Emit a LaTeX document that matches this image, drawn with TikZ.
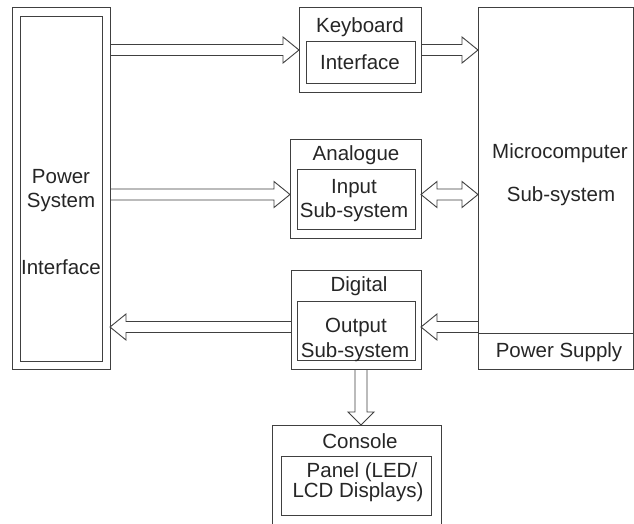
\documentclass[tikz,border=0pt]{standalone}
\usepackage{fontspec}
\setmainfont{Liberation Sans}
\usetikzlibrary{calc}
\definecolor{ln}{gray}{0.25}
\tikzset{
  box/.style={draw=ln, line width=0.9pt, inner sep=0pt, outer sep=0pt, anchor=north west},
  lbl/.style={anchor=base, inner sep=0pt, font=\fontsize{20.5}{24}\selectfont, text=black!85},
  fat/.style={draw=ln, line width=0.9pt, line join=miter}
}
\newcommand\fatright[2]{\draw[fat] let \p1=(#1),\p2=(#2) in
  (\x1,\y1+5.5pt) -- (\x2-16pt,\y1+5.5pt) -- (\x2-16pt,\y1+13pt) -- (\x2,\y1)
  -- (\x2-16pt,\y1-13pt) -- (\x2-16pt,\y1-5.5pt) -- (\x1,\y1-5.5pt);}
\newcommand\fatleft[2]{\draw[fat] let \p1=(#1),\p2=(#2) in
  (\x1,\y1+5.5pt) -- (\x2+16pt,\y1+5.5pt) -- (\x2+16pt,\y1+13pt) -- (\x2,\y1)
  -- (\x2+16pt,\y1-13pt) -- (\x2+16pt,\y1-5.5pt) -- (\x1,\y1-5.5pt);}
\newcommand\fatboth[2]{\draw[fat] let \p1=(#1),\p2=(#2) in
  (\x1,\y1) -- (\x1+16pt,\y1+13pt) -- (\x1+16pt,\y1+5.5pt) -- (\x2-16pt,\y1+5.5pt)
  -- (\x2-16pt,\y1+13pt) -- (\x2,\y1) -- (\x2-16pt,\y1-13pt) -- (\x2-16pt,\y1-5.5pt)
  -- (\x1+16pt,\y1-5.5pt) -- (\x1+16pt,\y1-13pt) -- cycle;}
\newcommand\fatdown[2]{\draw[fat] let \p1=(#1),\p2=(#2) in
  (\x1-6pt,\y1) -- (\x1-6pt,\y2+13pt) -- (\x1-13pt,\y2+13pt) -- (\x1,\y2)
  -- (\x1+13pt,\y2+13pt) -- (\x1+6pt,\y2+13pt) -- (\x1+6pt,\y1);}
\begin{document}
\begin{tikzpicture}[x=1pt,y=-1pt]
\useasboundingbox (0,0) rectangle (634,523);
\clip (0,0) rectangle (634,523);
\fill[white] (0,0) rectangle (634,523);
% Power system interface
\node[box, minimum width=98pt, minimum height=362pt] (psio) at (12,7) {};
\node[box, minimum width=82pt, minimum height=345pt] (psii) at (20,16) {};
\node[lbl] (t1) at (61,183) {Power};
\node[lbl] (t2) at (61,207) {System};
\node[lbl] (t3) at (61,274) {Interface};
% Keyboard
\node[box, minimum width=122pt, minimum height=85pt] (kbo) at (299,7) {};
\node[box, minimum width=109pt, minimum height=42pt] (kbi) at (306,41) {};
\node[lbl] (t4) at (360,32) {Keyboard};
\node[lbl] (t5) at (360,69) {Interface};
% Analogue
\node[box, minimum width=131pt, minimum height=99pt] (ano) at (290,139) {};
\node[box, minimum width=118pt, minimum height=60pt] (ani) at (297,169) {};
\node[lbl] (t6) at (356,160) {Analogue};
\node[lbl] (t7) at (354,193) {Input};
\node[lbl] (t8) at (354,217) {Sub-system};
% Digital
\node[box, minimum width=130pt, minimum height=99pt] (dgo) at (291,270) {};
\node[box, minimum width=118pt, minimum height=59pt] (dgi) at (297,301) {};
\node[lbl] (t9) at (359,291) {Digital};
\node[lbl] (t10) at (356,332) {Output};
\node[lbl] (t11) at (355,357) {Sub-system};
% Microcomputer
\node[box, minimum width=155pt, minimum height=326pt] (mc) at (478,7) {};
\node[box, minimum width=155pt, minimum height=36pt] (ps) at (478,333) {};
\node[lbl] (t12) at (560,158) {Microcomputer};
\node[lbl] (t13) at (561,201) {Sub-system};
\node[lbl] (t14) at (559,357) {Power Supply};
% Console
\node[box, minimum width=169pt, minimum height=110pt] (coo) at (272,425) {};
\node[box, minimum width=150pt, minimum height=59pt] (coi) at (281,456) {};
\node[lbl] (t15) at (360,448) {Console};
\node[lbl] (t16) at (362,477) {Panel (LED/};
\node[lbl] (t17) at (358,497) {LCD Displays)};
% rows
\coordinate (r1) at (0,50);
\coordinate (r2) at (0,194.5);
\coordinate (r3) at (0,327);
\coordinate (c1) at (361,0);
% arrows
\fatright{psio.east |- r1}{kbo.west |- r1}
\fatright{kbo.east |- r1}{mc.west |- r1}
\fatright{psio.east |- r2}{ano.west |- r2}
\fatboth{ano.east |- r2}{mc.west |- r2}
\fatleft{mc.west |- r3}{dgo.east |- r3}
\fatleft{dgo.west |- r3}{psio.east |- r3}
\fatdown{c1 |- dgo.south}{c1 |- coo.north}
\end{tikzpicture}
\end{document}
